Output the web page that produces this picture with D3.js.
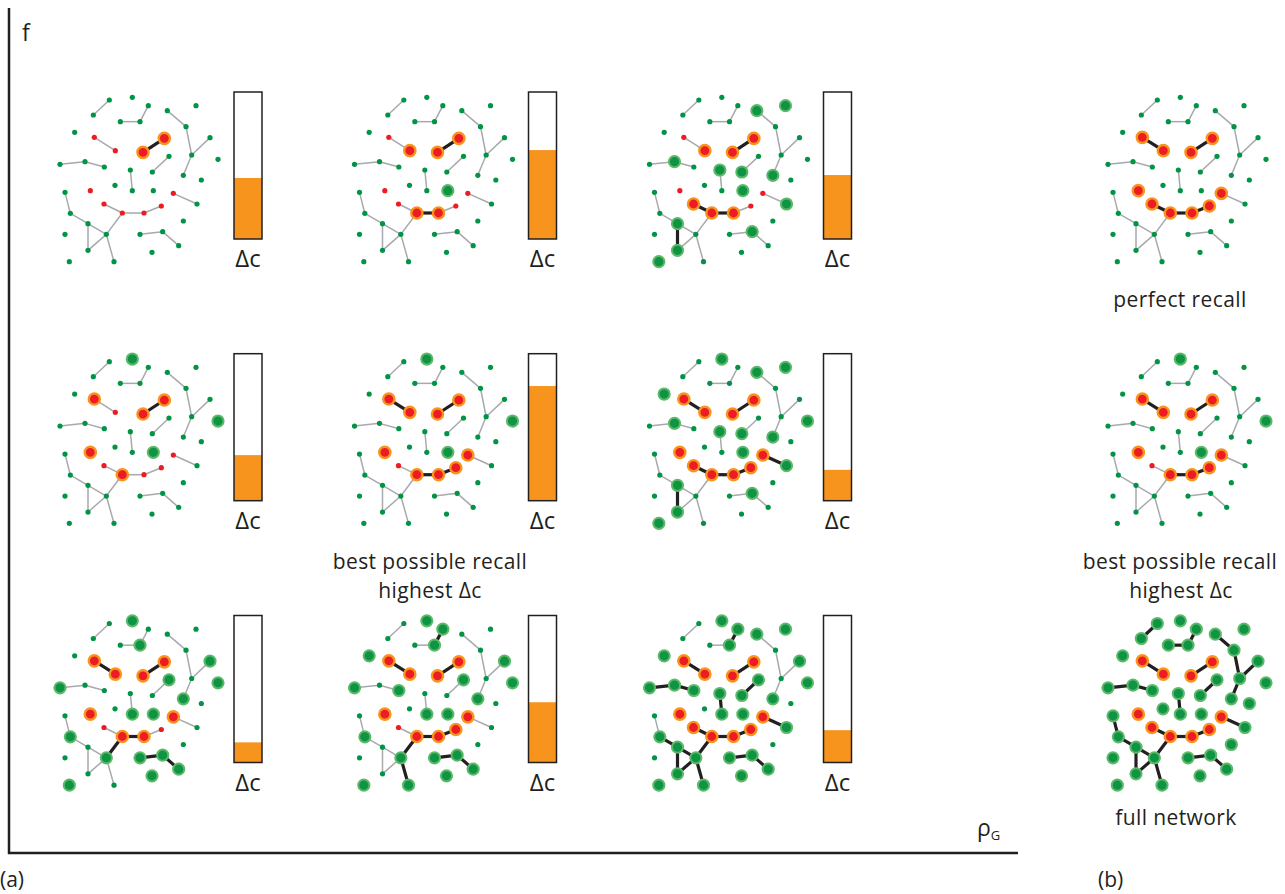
<!DOCTYPE html>
<html>
<head>
<meta charset="utf-8">
<script src="https://cdn.jsdelivr.net/npm/d3@7"></script>
<style>
  body { margin: 0; background: #fff; }
  text { font-family: "Open Sans", sans-serif; fill: #231f20; }
</style>
</head>
<body>
<div id="chart"></div>
<script>
// network layout (layout units, same for every panel)
var nodeX = [208,160,277,325,300,241,382,468,438,510,455,430,484,104,163,226,373,309,387,337,
             60,135,193,271,277,225,340,151,75,400,471,192,247,312,364,91,144,199,144,222,
             75,88,430,300,368,416,336,534];
var nodeY = [45,90,37,62,110,110,77,62,125,158,210,271,285,142,157,197,160,202,214,261,
             238,230,246,255,317,301,317,317,322,325,357,357,384,384,363,385,416,448,496,530,
             448,530,408,448,440,482,502,223];

// nodes of the planted community
var redNodes = [15,16,17,18,28,30,32,33,34,35];

var edges = [[1,2],[4,5],[5,6],[7,9],[9,11],[10,11],[11,12],[15,16],[17,18],[19,20],
             [21,22],[22,23],[24,25],[30,31],[32,33],[33,34],[34,35],[29,36],[36,37],
             [37,38],[37,39],[38,39],[38,40],[33,38],[44,45],[45,46]];

// highlighted (selected) nodes in each panel
var sel00 = [17,18];
var sel01 = [16,17,18,27,33,34];
var sel02 = [7,8,12,16,17,18,20,22,24,27,31,32,33,34,37,39,42,45];
var sel10 = [3,15,17,18,27,28,33,48];
var sel11 = [3,15,16,17,18,27,28,30,33,34,35,48];
var sel12 = [3,7,8,12,14,15,16,17,18,20,22,24,27,28,30,31,32,33,34,35,37,39,42,45,48];
var sel20 = [3,5,10,12,15,16,17,18,19,21,25,27,28,30,33,34,36,38,42,44,45,46,47,48];
var sel21 = [3,4,5,10,12,14,15,16,17,18,19,21,23,25,27,28,30,33,34,35,36,38,40,42,44,45,46,47,48];
var notSel22 = [1,2,6,9,11,13,26,29,41,43];
var selB0 = redNodes;
var selB1 = sel11;
var allNodes = d3.range(1, 49);
var sel22 = allNodes.filter(d => notSel22.indexOf(d) < 0);

// delta c bars (fraction of bar height)
var barValues = [[0.415, 0.605, 0.435],
                 [0.31, 0.78, 0.21],
                 [0.137, 0.41, 0.22]];

var svgWidth = 1285;
var svgHeight = 894;

var svg = d3.select("#chart")
  .append("svg")
  .attr("width", svgWidth)
  .attr("height", svgHeight);

var colX = [40, 334.5, 629.5, 1088];
var rowY = [85, 346.7, 608.5];

var panels = [
  {row: 0, col: 0, sel: sel00}, {row: 0, col: 1, sel: sel01}, {row: 0, col: 2, sel: sel02},
  {row: 1, col: 0, sel: sel10}, {row: 1, col: 1, sel: sel11}, {row: 1, col: 2, sel: sel12},
  {row: 2, col: 0, sel: sel20}, {row: 2, col: 1, sel: sel21}, {row: 2, col: 2, sel: sel22},
  {row: 0, col: 3, sel: selB0}, {row: 1, col: 3, sel: selB1}, {row: 2, col: 3, sel: allNodes}
];

function drawNetwork(p) {
  var ox = colX[p.col], oy = rowY[p.row];
  var x = d3.scaleLinear().domain([0, 510]).range([ox, ox + 170]);
  var y = d3.scaleLinear().domain([0, 555]).range([oy, oy + 185]);
  var g = svg.append("g");
  var isSel = id => p.sel.indexOf(id) >= 0;

  var thin = edges.filter(e => !(isSel(e[0]) && isSel(e[1])));
  var thick = edges.filter(e => isSel(e[0]) && isSel(e[1]));

  g.selectAll("line.thin").data(thin).enter().append("line")
    .attr("class", "thin")
    .attr("x1", e => x(nodeX[e[0] - 1])).attr("y1", e => y(nodeY[e[0] - 1]))
    .attr("x2", e => x(nodeX[e[1] - 1])).attr("y2", e => y(nodeY[e[1] - 1]))
    .attr("stroke", "#a7a9ac").attr("stroke-width", 1.5);

  g.selectAll("line.thick").data(thick).enter().append("line")
    .attr("class", "thick")
    .attr("x1", e => x(nodeX[e[0] - 1])).attr("y1", e => y(nodeY[e[0] - 1]))
    .attr("x2", e => x(nodeX[e[1] - 1])).attr("y2", e => y(nodeY[e[1] - 1]))
    .attr("stroke", "#231f20").attr("stroke-width", 3.2);

  g.selectAll("circle").data(allNodes).enter().append("circle")
    .attr("cx", id => x(nodeX[id - 1]))
    .attr("cy", id => y(nodeY[id - 1]))
    .attr("r", id => isSel(id) ? 5.6 : 2.6)
    .attr("fill", id => redNodes.indexOf(id) >= 0 ? "#ed1c24" : (isSel(id) ? "#0f9345" : "#009444"))
    .attr("stroke", id => !isSel(id) ? "none" : (redNodes.indexOf(id) >= 0 ? "#f7941d" : "#5cb968"))
    .attr("stroke-width", id => redNodes.indexOf(id) >= 0 ? 2.4 : 2);
}

panels.forEach(drawNetwork);

// delta c bars
barValues.forEach(function(rowVals, r) {
  rowVals.forEach(function(v, c) {
    var bx = colX[c] + 194;
    var top = rowY[r] + 7;
    var bh = 147;
    var yb = d3.scaleLinear().domain([0, 1]).range([top + bh, top]);
    svg.append("rect")
      .attr("x", bx).attr("y", yb(v))
      .attr("width", 28).attr("height", yb(0) - yb(v))
      .attr("fill", "#f7941d");
    svg.append("rect")
      .attr("x", bx).attr("y", top)
      .attr("width", 28).attr("height", bh)
      .attr("fill", "none").attr("stroke", "#231f20").attr("stroke-width", 1.5);
    svg.append("text")
      .attr("x", bx + 14).attr("y", top + bh + 28)
      .attr("text-anchor", "middle")
      .style("font-size", "24px")
      .text("\u0394c");
  });
});

// axes of panel (a)
svg.append("line").attr("x1", 9).attr("y1", 8).attr("x2", 9).attr("y2", 854)
  .attr("stroke", "#231f20").attr("stroke-width", 2.5);
svg.append("line").attr("x1", 8).attr("y1", 853).attr("x2", 1018).attr("y2", 853)
  .attr("stroke", "#231f20").attr("stroke-width", 2.5);

svg.append("text").attr("x", 22).attr("y", 41).style("font-size", "23px").text("f");
var rho = svg.append("text").attr("x", 977).attr("y", 836).style("font-size", "23px");
rho.append("tspan").text("\u03c1");
rho.append("tspan").attr("dy", 4).style("font-size", "13px").text("G");

svg.append("text").attr("x", 0).attr("y", 887).style("font-size", "21px").text("(a)");
svg.append("text").attr("x", 1098).attr("y", 887).style("font-size", "21px").text("(b)");

// captions
var captions = [
  {x: 430, y: 569, t: "best possible recall"},
  {x: 430, y: 598, t: "highest \u0394c"},
  {x: 1180, y: 307, t: "perfect recall"},
  {x: 1180, y: 569, t: "best possible recall"},
  {x: 1181, y: 598, t: "highest \u0394c"},
  {x: 1176, y: 825, t: "full network"}
];
svg.selectAll("text.cap").data(captions).enter().append("text")
  .attr("class", "cap")
  .attr("x", d => d.x).attr("y", d => d.y)
  .attr("text-anchor", "middle")
  .style("font-size", "21px")
  .style("letter-spacing", "0.4px")
  .text(d => d.t);
</script>
</body>
</html>
